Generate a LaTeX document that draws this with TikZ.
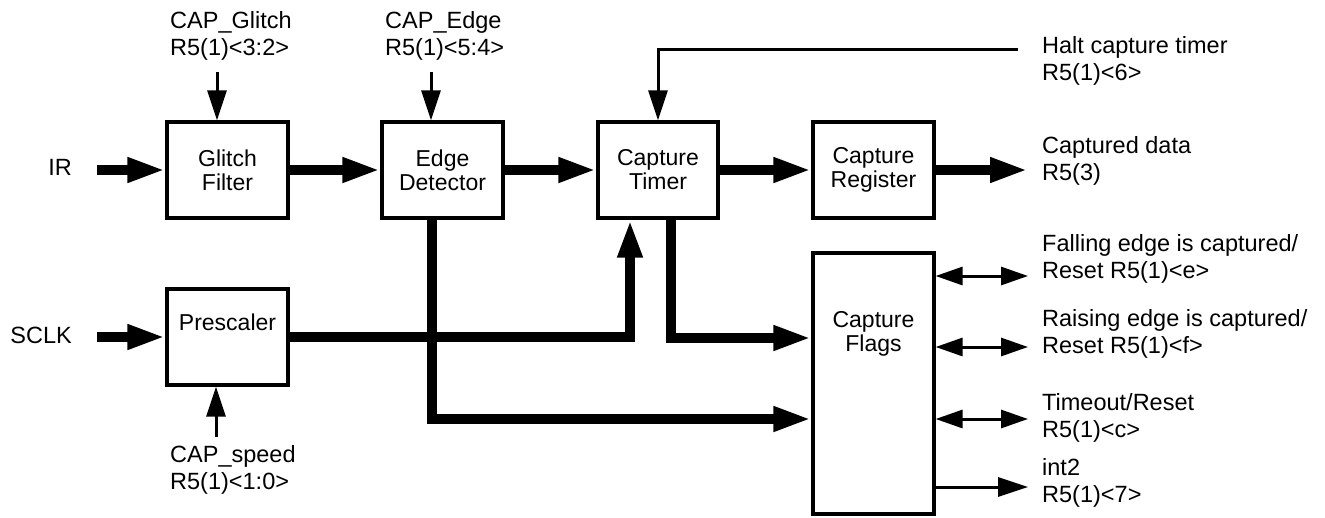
\documentclass[tikz,border=0pt]{standalone}
\usepackage{fontspec}
\setmainfont{Liberation Sans}
\usetikzlibrary{arrows.meta}
\newcommand\boxfnt{\fontsize{23}{24}\selectfont}
\newcommand\lblfnt{\fontsize{23.5}{27}\selectfont}
\begin{document}
\begin{tikzpicture}[x=1pt,y=-1pt,
  box/.style={draw,line width=3.2pt,minimum width=121pt,minimum height=96pt,inner sep=0pt,align=center,font=\boxfnt},
  lbl/.style={inner sep=0pt,align=left,anchor=west,font=\lblfnt},
  thickarrow/.style={line width=9.5pt,line join=miter,-{Triangle[length=38pt,width=23pt]}},
  thinarrow/.style={line width=3pt,line join=miter,-{Triangle[length=30pt,width=19pt]}},
  dblarrow/.style={line width=3pt,{Triangle[length=27pt,width=18pt]}-{Triangle[length=27pt,width=18pt]}}]
\useasboundingbox (0,0) rectangle (1325,517);

% blocks
\node[box] (glitch) at (227.5,170) {Glitch\\Filter};
\node[box] (edge) at (442.5,170) {Edge\\Detector};
\node[box,minimum width=120pt] (timer) at (658,170) {Capture\\Timer};
\node[box] (reg) at (873.5,170) {Capture\\Register};
\node[box,label={[font=\boxfnt,yshift=15pt]center:Prescaler}] (pre) at (227.5,337) {};
\node[box,minimum height=261pt,label={[font=\boxfnt,align=center,yshift=50pt]center:Capture\\Flags}] (flags) at (873.5,383.5) {};

% labels
\node[lbl,anchor=east] (ir) at (72,167) {IR};
\node[lbl,anchor=east] (sclk) at (72,335) {SCLK};
\node[lbl] (capg) at (170,36) {CAP\_Glitch\\R5(1)<3:2>};
\node[lbl] (cape) at (385,36) {CAP\_Edge\\R5(1)<5:4>};
\node[lbl] (caps) at (170,470) {CAP\_speed\\R5(1)<1:0>};
\node[lbl] (halt) at (1042,61) {Halt capture timer\\R5(1)<6>};
\node[lbl] (cdata) at (1042,161) {Captured data\\R5(3)};
\node[lbl] (fall) at (1042,259) {Falling edge is captured/\\Reset R5(1)<e>};
\node[lbl] (rise) at (1042,334) {Raising edge is captured/\\Reset R5(1)<f>};
\node[lbl] (tout) at (1042,418) {Timeout/Reset\\R5(1)<c>};
\node[lbl] (int) at (1042,483) {int2\\R5(1)<7>};

% free ends
\coordinate (irs) at (97,170);
\coordinate (ss) at (97,337);
\coordinate (cdo) at (1028,170);
\coordinate (cg) at (217,72);
\coordinate (ce) at (431,72);
\coordinate (cs) at (216,437);
\coordinate (hs) at (1018,49);
\coordinate (f1) at (1028,276);
\coordinate (f2) at (1028,347);
\coordinate (f3) at (1028,419);
\coordinate (f4) at (1028,487);

% main data path
\draw[thickarrow] (irs) -- (glitch.west);
\draw[thickarrow] (glitch.east) -- (edge.west);
\draw[thickarrow] (edge.east) -- (timer.west);
\draw[thickarrow] (timer.east) -- (reg.west);
\draw[thickarrow] (reg.east) -- (cdo);
\draw[thickarrow] (ss) -- (pre.west);
\draw[thickarrow] (pre.east) -| ([xshift=-28pt]timer.south);
\draw[thickarrow] ([xshift=13pt]timer.south) |- ([yshift=45.5pt]flags.west);
\draw[thickarrow] ([xshift=-10.5pt]edge.south) |- ([yshift=-35.5pt]flags.west);

% control inputs
\draw[thinarrow] (cg) -- (cg |- glitch.north);
\draw[thinarrow] (ce) -- (ce |- edge.north);
\draw[thinarrow] (cs) -- (cs |- pre.south);
\draw[thinarrow] (hs) -| (timer.north);

% flag outputs
\draw[dblarrow] (f1 -| flags.east) -- (f1);
\draw[dblarrow] (f2 -| flags.east) -- (f2);
\draw[dblarrow] (f3 -| flags.east) -- (f3);
\draw[thinarrow] (f4 -| flags.east) -- (f4);
\end{tikzpicture}
\end{document}
